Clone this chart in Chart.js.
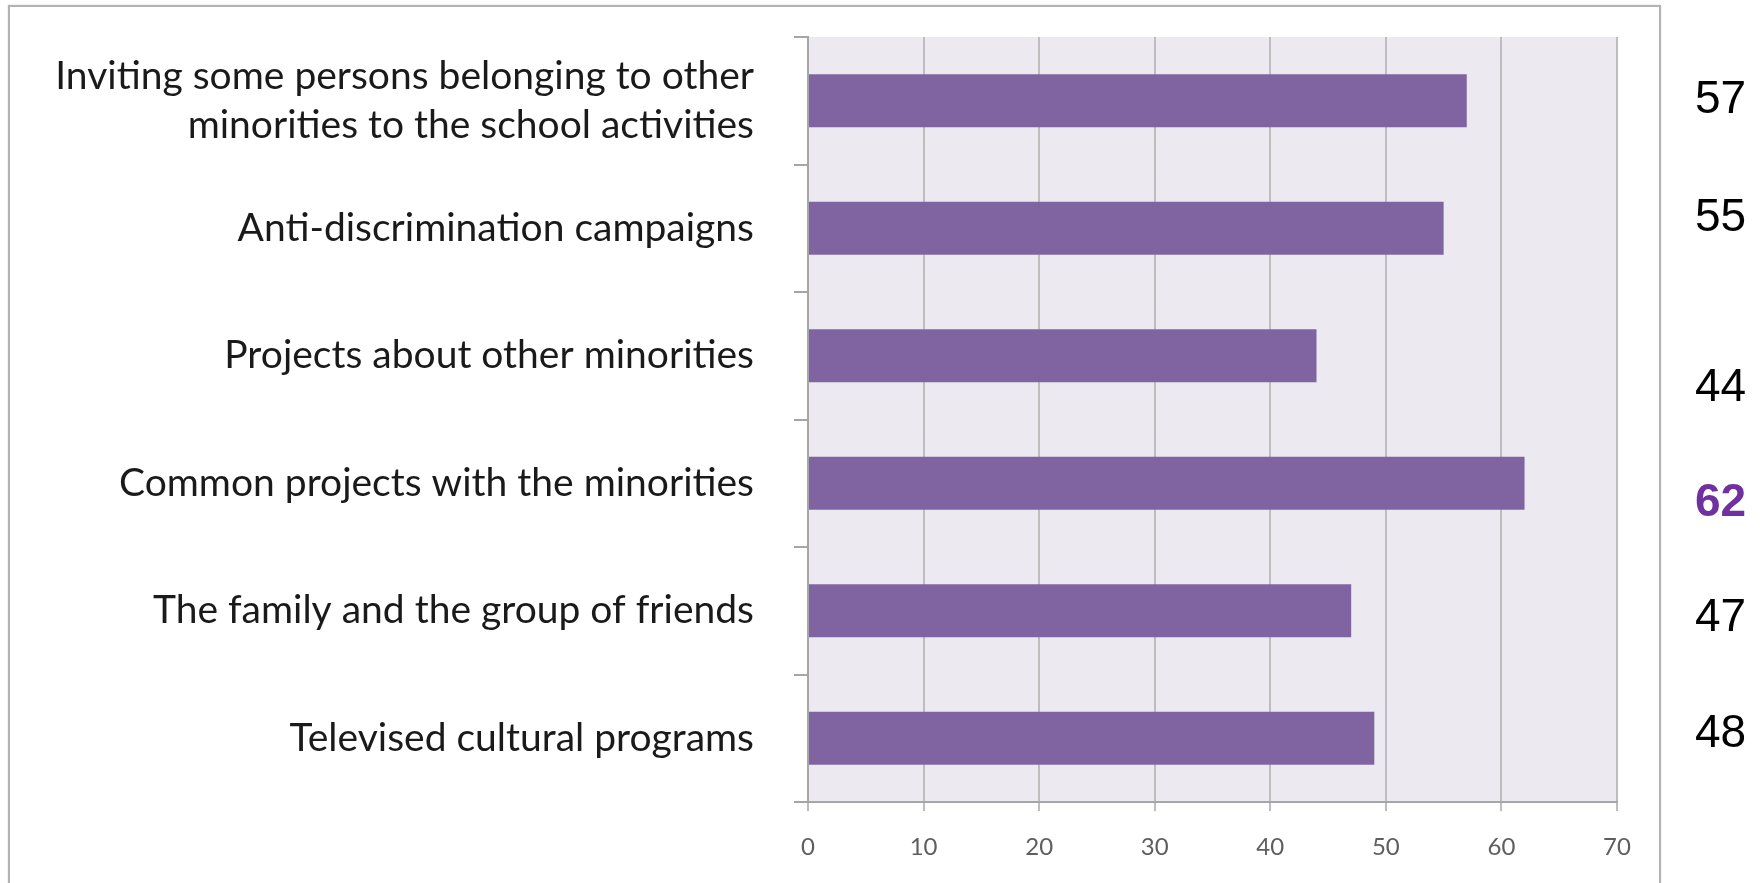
<!DOCTYPE html>
<html>
<head>
<meta charset="utf-8">
<script src="https://cdn.jsdelivr.net/npm/chart.js@4/dist/chart.umd.min.js"></script>
<style>
  html, body { margin: 0; padding: 0; background: #fff; }
  #wrap { position: relative; width: 1760px; height: 883px; overflow: hidden; }
  #frame { position: absolute; left: 8px; top: 5px; width: 1649px; height: 900px;
           border: 2px solid #b3b3b3; box-shadow: 0 0 2px rgba(0,0,0,0.15); }
  #studyChart { position: absolute; left: 0; top: 0; }
</style>
</head>
<body>
<div id="wrap">
  <div id="frame"></div>
  <canvas id="studyChart" width="1760" height="883"></canvas>
</div>
<script>
const categories = [
  ["Inviting some persons belonging to other", "minorities to the school activities"],
  "Anti-discrimination campaigns",
  "Projects about other minorities",
  "Common projects with the minorities",
  "The family and the group of friends",
  "Televised cultural programs"
];
const values = [57, 55, 44, 62, 47, 49];
const sideLabels = ["57", "55", "44", "62", "47", "48"];
const highlightIndex = 3;

// side numbers are not exactly centred on the bars in the original
const labelNudge = [-0.005, -0.08, 0.255, 0.155, 0.06, -0.03];

const plotBg = {
  id: "plotBg",
  beforeDraw(chart) {
    const { ctx, chartArea: a } = chart;
    ctx.save();
    ctx.fillStyle = "#eceaf0";
    ctx.fillRect(a.left, a.top, a.right - a.left, a.bottom - a.top);
    ctx.restore();
  }
};

const sideNumbers = {
  id: "sideNumbers",
  afterDraw(chart) {
    const { ctx, chartArea: a } = chart;
    const y = chart.scales.y;
    const band = (a.bottom - a.top) / categories.length;
    ctx.save();
    ctx.textAlign = "left";
    ctx.textBaseline = "middle";
    sideLabels.forEach((t, i) => {
      const bold = i === highlightIndex;
      ctx.font = (bold ? "bold " : "") + "46px 'Liberation Sans', Arial, sans-serif";
      ctx.fillStyle = bold ? "#7030a0" : "#000";
      ctx.fillText(t, a.right + 78, y.getPixelForValue(i) + labelNudge[i] * band);
    });
    ctx.restore();
  }
};

const canvas = document.getElementById("studyChart");
new Chart(canvas, {
  type: "bar",
  data: {
    labels: categories,
    datasets: [{
      data: values,
      backgroundColor: "#8064a2",
      borderWidth: 0,
      categoryPercentage: 1,
      barPercentage: 0.415
    }]
  },
  options: {
    indexAxis: "y",
    responsive: false,
    animation: false,
    layout: { padding: { top: 37, right: 143, left: 0, bottom: 0 } },
    plugins: { legend: { display: false }, tooltip: { enabled: false } },
    scales: {
      x: {
        min: 0, max: 70,
        ticks: { stepSize: 10, color: "#5e5e5e", padding: 22,
                 font: { family: "Lato, 'Open Sans', sans-serif", size: 24 } },
        grid: { color: "#bdbdbd", lineWidth: 2, tickLength: 9 },
        border: { color: "#a6a6a6", width: 2 },
        afterFit(s) { s.height = 81; s.paddingLeft = 0; s.paddingRight = 0; }
      },
      y: {
        ticks: { color: "#1a1a1a", padding: 40,
                 font: { family: "Lato, 'Open Sans', sans-serif", size: 39, lineHeight: 1.26 } },
        grid: { offset: true, drawOnChartArea: false, drawTicks: true, tickLength: 14, color: "#a6a6a6", lineWidth: 2 },
        border: { color: "#a6a6a6", width: 2 },
        afterFit(s) { s.width = 808; s.paddingTop = 0; s.paddingBottom = 0; }
      }
    }
  },
  plugins: [plotBg, sideNumbers]
});
</script>
</body>
</html>
